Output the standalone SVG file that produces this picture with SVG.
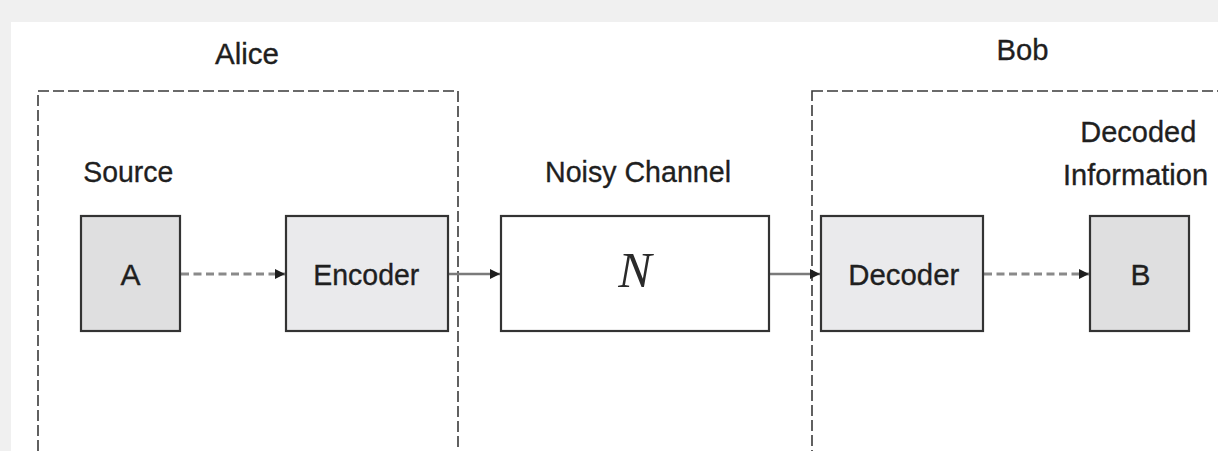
<svg xmlns="http://www.w3.org/2000/svg" width="1218" height="451" viewBox="0 0 1218 451">
  <defs>
    <style>
      .lbl { font-family: "Liberation Sans", Arial, sans-serif; font-size: 30px; fill: #1f1f1f; stroke: #1f1f1f; stroke-width: 0.35; text-anchor: middle; }
      .party { fill: none; stroke: #3a3a3a; stroke-width: 1.6; stroke-dasharray: 11 4; }
      .box { stroke: #333; stroke-width: 2.2; }
      .dark { fill: #dfdfe0; }
      .light { fill: #eaeaec; }
      .plain { fill: #ffffff; }
      .dashed { fill: none; stroke: #8a8a8a; stroke-width: 3; stroke-dasharray: 8 4.5; }
      .solid { fill: none; stroke: #7a7a7a; stroke-width: 2.6; }
    </style>
    <marker id="head" viewBox="0 0 10 10" refX="10" refY="5" markerWidth="10" markerHeight="10" markerUnits="userSpaceOnUse" orient="auto">
      <path d="M0,0 L10,5 L0,10 Z" fill="#1e1e1e"/>
    </marker>
  </defs>

  <!-- page backdrop -->
  <rect x="0" y="0" width="1218" height="451" fill="#f0f0f0"/>
  <rect x="11" y="22" width="1207" height="429" fill="#ffffff"/>

  <!-- parties -->
  <g id="alice">
    <rect class="party" x="38" y="91" width="420" height="420"/>
    <text class="lbl" x="247" y="64" textLength="64" lengthAdjust="spacingAndGlyphs">Alice</text>
  </g>
  <g id="bob">
    <rect class="party" x="812" y="91" width="440" height="420"/>
    <text class="lbl" x="1022.5" y="60" textLength="52" lengthAdjust="spacingAndGlyphs">Bob</text>
  </g>

  <!-- connectors -->
  <g id="connectors">
    <line class="dashed" x1="181" y1="274" x2="285" y2="274" marker-end="url(#head)"/>
    <line class="solid" x1="449" y1="274" x2="500" y2="274" marker-end="url(#head)"/>
    <line class="solid" x1="770" y1="274" x2="820" y2="274" marker-end="url(#head)"/>
    <line class="dashed" x1="984" y1="274" x2="1089" y2="274" marker-end="url(#head)"/>
  </g>

  <!-- nodes -->
  <g id="source">
    <text class="lbl" x="128.3" y="182" textLength="90" lengthAdjust="spacingAndGlyphs">Source</text>
    <rect class="box dark" x="81" y="216" width="99" height="115"/>
    <text class="lbl" x="130.5" y="284.5">A</text>
  </g>
  <g id="encoder">
    <rect class="box light" x="286" y="216" width="162" height="115"/>
    <text class="lbl" x="366.3" y="284.5" textLength="106" lengthAdjust="spacingAndGlyphs">Encoder</text>
  </g>
  <g id="channel">
    <text class="lbl" x="638" y="182" textLength="186" lengthAdjust="spacingAndGlyphs">Noisy Channel</text>
    <rect class="box plain" x="501" y="216" width="268" height="115"/>
    <text x="635" y="287" text-anchor="middle" font-family="'Liberation Serif', 'Times New Roman', serif" font-style="italic" font-size="50" fill="#2a2a2a">N</text>
  </g>
  <g id="decoder">
    <rect class="box light" x="821" y="216" width="162" height="115"/>
    <text class="lbl" x="903.8" y="284.5" textLength="111" lengthAdjust="spacingAndGlyphs">Decoder</text>
  </g>
  <g id="destination">
    <text class="lbl" x="1138.3" y="142" textLength="116" lengthAdjust="spacingAndGlyphs">Decoded</text>
    <text class="lbl" x="1135.5" y="185" textLength="145" lengthAdjust="spacingAndGlyphs">Information</text>
    <rect class="box dark" x="1090" y="216" width="99" height="115"/>
    <text class="lbl" x="1140.5" y="284.5">B</text>
  </g>
</svg>
